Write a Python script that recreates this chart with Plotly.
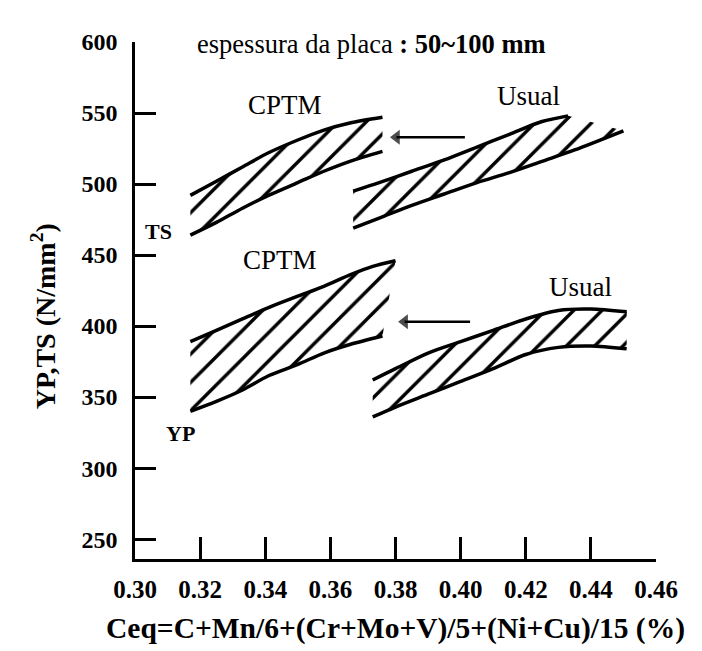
import plotly.graph_objects as go

# ---- data (x: Ceq %, y: N/mm2) ----
cptm_ts_x = [0.317, 0.325, 0.333, 0.341, 0.350, 0.358, 0.366, 0.376]
cptm_ts_upper = [492, 502, 512, 522, 531, 538, 543, 547]
cptm_ts_lower = [464, 473, 483, 492, 501, 509, 516, 523]

usual_ts_upper_x = [0.367, 0.375, 0.385, 0.395, 0.405, 0.415, 0.425, 0.433]
usual_ts_upper = [495, 501, 509, 517, 526, 535, 544, 548]
usual_ts_lower_x = [0.367, 0.375, 0.385, 0.395, 0.405, 0.415, 0.425, 0.435, 0.450]
usual_ts_lower = [469, 476, 485, 493, 501, 508, 516, 524, 537.5]

cptm_yp_upper_x = [0.317, 0.325, 0.333, 0.341, 0.350, 0.358, 0.366, 0.373, 0.380]
cptm_yp_upper = [389, 397, 405, 413, 421, 428, 436, 442, 446]
cptm_yp_lower_x = [0.317, 0.325, 0.333, 0.341, 0.350, 0.358, 0.366, 0.376]
cptm_yp_lower = [340, 347, 355, 365, 373, 381, 387, 393]

usual_yp_x = [0.373, 0.380, 0.390, 0.400, 0.410, 0.420, 0.430, 0.440, 0.451]
usual_yp_upper = [362, 370, 381, 389, 397, 405, 411, 412, 410]
usual_yp_lower = [336, 343, 352, 361, 370, 380, 385, 386, 384]

# arrows (Usual -> CPTM shift): tail x, tip x, level
arrow_tail_x = [0.4013, 0.4029]
arrow_tip_x = [0.3803, 0.3828]
arrow_y = [533, 403]

x_ticks = [0.30, 0.32, 0.34, 0.36, 0.38, 0.40, 0.42, 0.44, 0.46]
x_ticktext = ["0.30", "0.32", "0.34", "0.36", "0.38", "0.40", "0.42", "0.44", "0.46"]
y_ticks = [250, 300, 350, 400, 450, 500, 550, 600]

SERIF = "Liberation Serif, Times New Roman, serif"
LW = 3.5

fig = go.Figure()


def add_band(name, ux, uy, lx, ly):
    # hatched area
    fig.add_trace(go.Scatter(
        x=list(ux) + list(lx)[::-1], y=list(uy) + list(ly)[::-1],
        mode="none", fill="toself", fillcolor="rgba(0,0,0,0)",
        fillpattern=dict(shape="/", size=20, solidity=0.17,
                         fgcolor="black", bgcolor="rgba(0,0,0,0)", fgopacity=1),
        name=name, showlegend=False, hoverinfo="skip"))
    # boundary curves
    for xs, ys in ((ux, uy), (lx, ly)):
        fig.add_trace(go.Scatter(
            x=xs, y=ys, mode="lines",
            line=dict(color="black", width=LW, shape="spline", smoothing=0.8),
            name=name, showlegend=False))


add_band("CPTM TS", cptm_ts_x, cptm_ts_upper, cptm_ts_x, cptm_ts_lower)
add_band("Usual TS", usual_ts_upper_x, usual_ts_upper, usual_ts_lower_x, usual_ts_lower)
add_band("CPTM YP", cptm_yp_upper_x, cptm_yp_upper, cptm_yp_lower_x, cptm_yp_lower)
add_band("Usual YP", usual_yp_x, usual_yp_upper, usual_yp_x, usual_yp_lower)

# arrows: shaft line with a triangular head at the tip
for tail, tip, yv in zip(arrow_tail_x, arrow_tip_x, arrow_y):
    fig.add_trace(go.Scatter(
        x=[tail, tip], y=[yv, yv], mode="lines+markers",
        line=dict(color="black", width=2.5),
        marker=dict(symbol=["circle", "triangle-left"], size=[0, 13],
                    color="black", line=dict(width=0)),
        showlegend=False, hoverinfo="skip"))

annotations = [
    dict(x=0.3726, y=598.5, text="espessura da placa<b> : 50~100 mm</b>",
         font=dict(family=SERIF, size=26.5, color="black")),
    dict(x=0.3461, y=555.3, text="CPTM", font=dict(family=SERIF, size=27, color="black")),
    dict(x=0.3445, y=446.3, text="CPTM", font=dict(family=SERIF, size=27, color="black")),
    dict(x=0.4207, y=562.3, text="Usual", font=dict(family=SERIF, size=27, color="black")),
    dict(x=0.4367, y=427.4, text="Usual", font=dict(family=SERIF, size=27, color="black")),
    dict(x=0.3071, y=466.6, text="<b>TS</b>", font=dict(family=SERIF, size=22, color="black")),
    dict(x=0.3141, y=324.7, text="<b>YP</b>", font=dict(family=SERIF, size=22, color="black")),
    # y-axis title
    dict(xref="paper", yref="paper", x=-0.176, y=0.470, textangle=-90,
         xanchor="center", yanchor="middle",
         text="<b>YP,TS (N/mm<sup>2</sup>)</b>",
         font=dict(family=SERIF, size=28, color="black")),
]
for a in annotations:
    a.setdefault("xref", "x")
    a.setdefault("yref", "y")
    a.setdefault("showarrow", False)

fig.update_layout(
    width=702, height=651,
    margin=dict(l=135, r=46, t=42, b=88),
    paper_bgcolor="white", plot_bgcolor="white",
    annotations=annotations,
    showlegend=False,
    xaxis=dict(
        range=[0.30, 0.46], tickvals=x_ticks, ticktext=x_ticktext,
        ticks="inside", ticklen=22, tickwidth=2.5, tickcolor="black",
        showline=True, linewidth=2.5, linecolor="black",
        showgrid=False, zeroline=False, ticklabelstandoff=6,
        tickfont=dict(family=SERIF, size=25, color="black", weight="bold"),
        title=dict(text="<b>Ceq=C+Mn/6+(Cr+Mo+V)/5+(Ni+Cu)/15 (%)</b>",
                   font=dict(family=SERIF, size=29.5, color="black"), standoff=16),
    ),
    yaxis=dict(
        range=[236, 600], tickvals=y_ticks,
        ticks="inside", ticklen=21, tickwidth=2.5, tickcolor="black",
        showline=True, linewidth=2.5, linecolor="black",
        showgrid=False, zeroline=False, ticklabelstandoff=10,
        tickfont=dict(family=SERIF, size=24, color="black", weight="bold"),
    ),
)

fig.write_html("out.html", config={"displayModeBar": False},
               post_script="document.body.style.margin='0';")
